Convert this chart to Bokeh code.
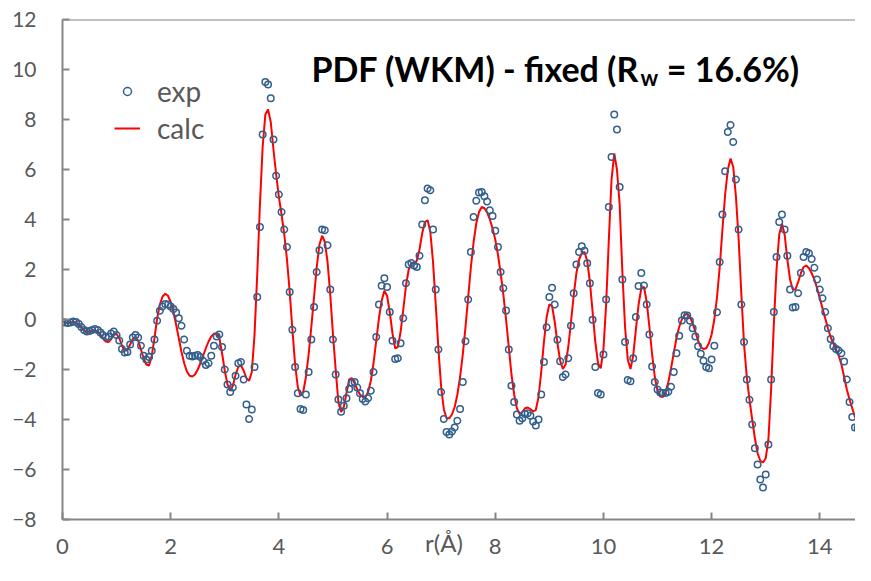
import numpy as np
from bokeh.plotting import figure
from bokeh.models import Range1d, Label, Span, Legend, LegendItem, FixedTicker
from bokeh.embed import file_html
from bokeh.resources import INLINE

R_STEP = 0.05  # spacing of the r grid (Å)

g_exp = [
    -0.10, -0.12, -0.14, -0.12, -0.08, -0.10, -0.18, -0.30, -0.42, -0.48,
    -0.46, -0.42, -0.38, -0.42, -0.52, -0.62, -0.70, -0.68, -0.56, -0.48,
    -0.62, -0.84, -1.18, -1.32, -1.30, -1.00, -0.72, -0.62, -0.72, -1.05,
    -1.45, -1.60, -1.50, -1.25, -0.80, -0.05, 0.35, 0.52, 0.62, 0.60,
    0.52, 0.42, 0.28, 0.05, -0.25, -0.80, -1.25, -1.45, -1.48, -1.45,
    -1.42, -1.50, -1.65, -1.82, -1.75, -1.45, -1.05, -0.68, -0.60, -1.10,
    -2.00, -2.60, -2.90, -2.72, -2.25, -1.75, -1.70, -2.40, -3.40, -3.98,
    -3.60, -1.90, 0.90, 3.70, 7.40, 9.50, 9.40, 8.85, 7.20, 5.75,
    5.00, 4.30, 3.60, 2.90, 1.10, -0.41, -1.90, -2.95, -3.58, -3.62,
    -3.00, -2.10, -0.80, 0.50, 1.90, 2.77, 3.60, 3.57, 2.97, 1.20,
    -0.80, -2.20, -3.20, -3.69, -3.45, -3.15, -2.78, -2.53, -2.50, -2.72,
    -2.95, -3.18, -3.28, -3.15, -2.85, -2.10, -0.70, 0.60, 1.35, 1.65,
    1.30, 0.30, -0.85, -1.58, -1.55, -0.95, 0.05, 1.45, 2.20, 2.26,
    2.16, 2.10, 2.55, 3.80, 4.77, 5.24, 5.17, 3.60, 1.20, -1.20,
    -2.90, -3.98, -4.50, -4.60, -4.48, -4.32, -4.05, -3.58, -2.50, -0.87,
    0.80, 2.70, 4.10, 4.75, 5.08, 5.10, 4.93, 4.72, 4.37, 4.14,
    3.55, 2.90, 1.90, 1.25, 0.36, -1.20, -2.65, -3.30, -3.80, -4.05,
    -3.95, -3.78, -3.75, -3.85, -4.08, -4.24, -4.00, -3.00, -1.70, -0.31,
    0.90, 1.27, 0.60, -0.81, -1.67, -2.30, -2.20, -1.55, -0.25, 1.05,
    2.20, 2.70, 2.93, 2.75, 2.25, 1.45, -0.01, -1.90, -2.94, -3.00,
    -1.40, 0.80, 4.50, 6.50, 8.20, 7.60, 5.30, 1.60, -0.90, -2.42,
    -2.47, -1.55, 0.10, 1.34, 1.86, 1.36, 0.60, -0.60, -1.88, -2.50,
    -2.80, -2.92, -2.94, -2.94, -2.89, -2.69, -2.10, -1.35, -0.65, -0.04,
    0.17, 0.16, -0.05, -0.35, -0.68, -1.07, -1.37, -1.65, -1.90, -1.95,
    -1.60, -1.05, 0.29, 2.30, 4.20, 5.93, 7.50, 7.78, 7.10, 5.60,
    3.60, 0.60, -0.90, -2.40, -3.21, -4.20, -5.15, -5.80, -6.40, -6.72,
    -6.20, -5.00, -2.40, 0.30, 2.50, 3.90, 4.20, 3.60, 2.55, 1.20,
    0.48, 0.50, 1.05, 1.86, 2.50, 2.70, 2.65, 2.42, 2.07, 1.60,
    1.20, 0.85, 0.30, -0.35, -0.78, -1.07, -1.18, -1.24, -1.35, -1.68,
    -2.40, -3.30, -3.90, -4.32, -4.34, -4.25, -4.10, -4.06, -4.15, -4.22,
]

g_calc = [
    -0.10, -0.12, -0.14, -0.12, -0.10, -0.12, -0.20, -0.32, -0.44, -0.50,
    -0.48, -0.44, -0.42, -0.48, -0.60, -0.75, -0.88, -0.90, -0.78, -0.60,
    -0.58, -0.75, -1.05, -1.25, -1.22, -1.00, -0.78, -0.70, -0.85, -1.20,
    -1.55, -1.80, -1.84, -1.45, -0.75, 0.05, 0.60, 0.92, 1.03, 0.95,
    0.70, 0.30, -0.20, -0.75, -1.30, -1.75, -2.08, -2.25, -2.28, -2.20,
    -2.00, -1.75, -1.45, -1.15, -0.88, -0.68, -0.57, -0.55, -0.75, -1.35,
    -2.05, -2.60, -2.85, -2.65, -2.20, -1.90, -1.84, -2.05, -2.35, -2.45,
    -2.10, -0.60, 1.80, 4.60, 6.90, 8.20, 8.40, 7.90, 6.80, 5.80,
    4.90, 4.20, 3.40, 2.40, 1.10, -0.40, -1.80, -2.70, -3.05, -2.90,
    -2.30, -1.40, -0.30, 0.90, 2.10, 3.00, 3.35, 3.10, 2.30, 1.00,
    -0.60, -2.00, -3.30, -3.70, -3.50, -2.95, -2.40, -2.35, -2.55, -2.80,
    -3.00, -3.10, -3.10, -2.90, -2.45, -1.75, -0.85, 0.05, 0.75, 1.15,
    0.95, 0.30, -0.55, -1.15, -1.10, -0.50, 0.40, 1.35, 2.00, 2.25,
    2.25, 2.35, 2.80, 3.45, 3.90, 3.97, 3.50, 2.30, 0.60, -1.20,
    -2.70, -3.60, -3.95, -3.95, -3.80, -3.50, -3.00, -2.30, -1.40, -0.30,
    0.90, 2.10, 3.10, 3.85, 4.30, 4.50, 4.45, 4.28, 4.00, 3.65,
    3.20, 2.60, 1.85, 1.00, 0.00, -1.10, -2.20, -3.00, -3.55, -3.78,
    -3.70, -3.55, -3.52, -3.58, -3.68, -3.62, -3.10, -2.10, -0.90, 0.10,
    0.60, 0.55, -0.10, -0.95, -1.65, -1.98, -1.80, -1.10, -0.10, 0.95,
    1.85, 2.40, 2.65, 2.70, 2.35, 1.50, 0.30, -0.90, -1.75, -1.95,
    -1.20, 0.60, 3.20, 5.60, 6.64, 6.00, 4.60, 1.90, -0.30, -1.60,
    -1.98, -1.45, -0.40, 0.60, 1.25, 1.30, 0.70, -0.30, -1.40, -2.30,
    -2.85, -3.08, -3.10, -2.90, -2.50, -1.95, -1.35, -0.75, -0.30, 0.00,
    0.18, 0.22, 0.10, -0.15, -0.50, -0.85, -1.10, -1.18, -1.15, -0.95,
    -0.60, 0.00, 0.90, 2.10, 3.60, 5.00, 6.00, 6.44, 6.10, 4.90,
    3.20, 1.00, -1.00, -2.30, -3.20, -4.00, -4.75, -5.35, -5.65, -5.72,
    -5.55, -4.80, -2.80, -0.20, 2.00, 3.40, 3.83, 3.40, 2.40, 1.60,
    1.20, 1.20, 1.50, 1.85, 2.10, 2.16, 2.05, 1.85, 1.60, 1.25,
    0.85, 0.45, 0.05, -0.35, -0.70, -0.95, -1.20, -1.45, -1.80, -2.30,
    -2.80, -3.20, -3.55, -3.90, -3.95, -3.70, -3.50, -3.38, -3.30, -3.25,
]

r = np.round(np.arange(len(g_exp)) * R_STEP, 3)

x_ticks = [0, 2, 4, 6, 8, 10, 12, 14]
y_ticks = [-8, -6, -4, -2, 0, 2, 4, 6, 8, 10, 12]

title_main = "PDF (WKM) - fixed (R"
title_sub = "w"
title_tail = "= 16.6%)"
x_title = "r(Å)"

AXIS_GRAY = "#868686"
LABEL_GRAY = "#595959"
FONT = "Lato"

p = figure(width=855, height=565, output_backend="svg", toolbar_location=None,
           x_range=Range1d(0, 14.66), y_range=Range1d(-8, 12),
           min_border_left=62, min_border_top=19, min_border_bottom=46,
           min_border_right=0)
p.outline_line_color = None
p.grid.visible = False
p.background_fill_color = "white"
p.border_fill_color = "white"

for ax in (p.xaxis[0], p.yaxis[0]):
    ax.axis_line_color = AXIS_GRAY
    ax.axis_line_width = 2
    ax.major_tick_line_color = AXIS_GRAY
    ax.major_tick_line_width = 2
    ax.major_tick_in = 7
    ax.major_tick_out = 0
    ax.minor_tick_line_color = None
    ax.major_label_text_color = LABEL_GRAY
    ax.major_label_text_font = FONT

xax = p.xaxis[0]
xax.ticker = FixedTicker(ticks=x_ticks)
p.yaxis[0].ticker = FixedTicker(ticks=y_ticks)
xax.major_label_text_font_size = "22px"
p.yaxis[0].major_label_text_font_size = "21px"
xax.major_label_standoff = 19
p.yaxis[0].major_label_standoff = 26

# x-axis title: trailing em/en spaces move the visible text left of the frame centre,
# a negative standoff tucks it up beside the tick labels so it stays on the canvas
xax.axis_label = x_title + "\u2003\u2002"
xax.axis_label_text_font = FONT
xax.axis_label_text_font_style = "normal"
xax.axis_label_text_font_size = "24px"
xax.axis_label_text_color = LABEL_GRAY
xax.axis_label_standoff = -29

p.add_layout(Span(location=12, dimension="width", line_color=AXIS_GRAY, line_width=2))

ln = p.line(r, g_calc, line_color="#ff0000", line_width=2)
sc = p.scatter(r, g_exp, marker="circle", size=6.5, line_color="#335f8c",
               fill_color=None, line_width=1.5)

legend = Legend(items=[LegendItem(label="exp", renderers=[sc]),
                       LegendItem(label="calc", renderers=[ln])],
                location=(52, 374), padding=0, margin=0, spacing=3,
                glyph_width=26, glyph_height=20, label_standoff=17,
                label_text_font=FONT, label_text_font_size="28px",
                label_text_color=LABEL_GRAY, border_line_color=None,
                background_fill_alpha=0)
p.add_layout(legend)

p.add_layout(Label(x=10.66, y=10.04, text=title_main, text_align="right",
                   text_baseline="alphabetic", text_font=FONT, text_font_style="bold",
                   text_font_size="34px", text_color="black"))
p.add_layout(Label(x=10.85, y=9.68, text=title_sub, text_align="center",
                   text_baseline="alphabetic", text_font=FONT, text_font_style="bold",
                   text_font_size="22px", text_color="black"))
p.add_layout(Label(x=11.17, y=10.04, text=title_tail, text_align="left",
                   text_baseline="alphabetic", text_font=FONT, text_font_style="bold",
                   text_font_size="34px", text_color="black"))

open("out.html", "w").write(file_html(p, INLINE))
